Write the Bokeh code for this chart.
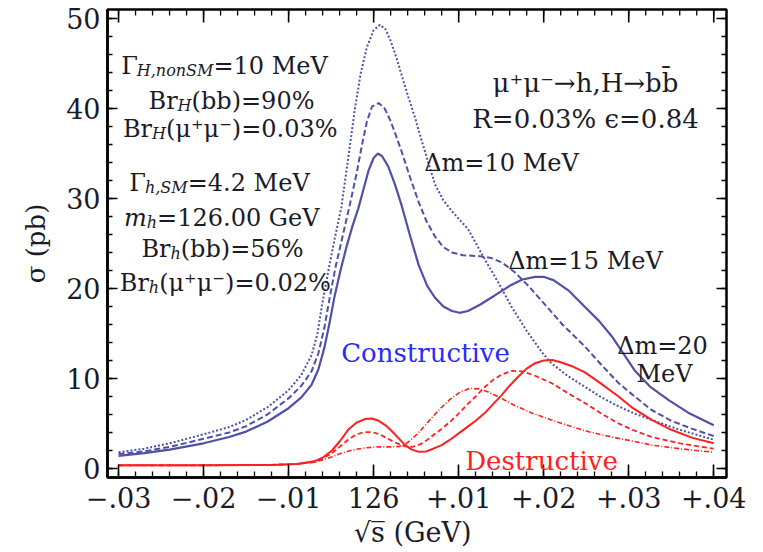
import math
from bokeh.plotting import figure
from bokeh.models import FixedTicker, Label, Range1d
from bokeh.embed import file_html
from bokeh.resources import INLINE

# ---------------- data (offset of sqrt(s) from 126 GeV, in GeV) ----------------
x_tick_values = [-0.03, -0.02, -0.01, 0.0, 0.01, 0.02, 0.03, 0.04]
x_tick_labels = ["\u2212.03", "\u2212.02", "\u2212.01", "126", "+.01", "+.02", "+.03", "+.04"]
y_tick_values = [0, 10, 20, 30, 40, 50]
y_tick_labels = ["0", "10", "20", "30", "40", "50"]

# Constructive, dm = 20 MeV (solid)
con20_x = [-0.030, -0.027, -0.024, -0.020, -0.017, -0.015, -0.0125, -0.010, -0.0085, -0.0073,
           -0.0065, -0.0058, -0.0052, -0.0046, -0.0039, -0.0032, -0.0025, -0.0018, -0.0012, -0.0006,
           0.0000, 0.0005, 0.0010, 0.0017, 0.0025, 0.0033, 0.0043, 0.0053, 0.0063, 0.0072,
           0.0082, 0.0092, 0.0101, 0.0111, 0.0125, 0.0142, 0.0160, 0.0175, 0.0190, 0.0200,
           0.0212, 0.0229, 0.0248, 0.0265, 0.0280, 0.0295, 0.0307, 0.0325, 0.0347, 0.0370,
           0.0400]
con20_y = [1.4, 1.7, 2.1, 2.8, 3.5, 4.1, 5.2, 6.7, 7.9, 9.3,
           11.0, 13.4, 16.1, 19.1, 22.0, 24.6, 26.9, 28.9, 31.0, 33.1,
           34.5, 35.0, 34.7, 33.6, 31.6, 29.2, 25.8, 22.6, 20.3, 19.0,
           18.0, 17.5, 17.3, 17.5, 18.2, 19.2, 20.3, 21.0, 21.3, 21.3,
           20.9, 19.8, 18.0, 16.4, 14.7, 12.6, 10.9, 9.1, 7.6, 6.2,
           4.8]
# Constructive, dm = 15 MeV (dashed)
con15_x = [-0.030, -0.027, -0.024, -0.020, -0.017, -0.015, -0.0125, -0.010, -0.0085, -0.0073,
           -0.0065, -0.0058, -0.0052, -0.0045, -0.0036, -0.0028, -0.0020, -0.0014, -0.0008, -0.0002,
           0.0006, 0.0013, 0.0020, 0.0027, 0.0033, 0.0043, 0.0053, 0.0062, 0.0072, 0.0082,
           0.0092, 0.0105, 0.0123, 0.0138, 0.0151, 0.0166, 0.0182, 0.0195, 0.0209, 0.0222,
           0.0233, 0.0248, 0.0268, 0.0288, 0.0307, 0.0327, 0.0350, 0.0375, 0.0400]
con15_y = [1.6, 1.9, 2.4, 3.3, 4.0, 4.7, 6.0, 7.8, 9.2, 10.8,
           12.8, 15.6, 18.8, 22.3, 26.0, 29.3, 32.8, 35.8, 38.5, 40.2,
           40.6, 40.0, 38.6, 36.8, 35.2, 32.3, 29.6, 27.5, 25.8, 24.6,
           24.0, 23.7, 23.6, 23.4, 22.9, 21.8, 20.3, 18.9, 17.4, 16.0,
           15.0, 13.6, 11.5, 9.5, 8.0, 6.5, 5.3, 4.4, 3.6]
# Constructive, dm = 10 MeV (dotted)
con10_x = [-0.030, -0.027, -0.024, -0.020, -0.017, -0.015, -0.0125, -0.010, -0.0085, -0.0073,
           -0.0066, -0.0061, -0.0052, -0.0045, -0.0038, -0.0030, -0.0022, -0.0015, -0.0008, 0.0000,
           0.00075, 0.0014, 0.0020, 0.0027, 0.0033, 0.0041, 0.0049, 0.0054, 0.0063, 0.0072,
           0.0082, 0.0092, 0.0111, 0.0131, 0.0147, 0.0162, 0.0180, 0.0198, 0.0209, 0.0228,
           0.0248, 0.0268, 0.0288, 0.0307, 0.0327, 0.0360, 0.0400]
con10_y = [1.8, 2.2, 2.8, 3.8, 4.6, 5.4, 6.8, 8.7, 10.4, 12.6,
           15.0, 18.0, 22.6, 25.9, 29.0, 34.4, 40.0, 44.0, 46.8, 48.7,
           49.3, 48.8, 47.5, 45.6, 43.7, 41.2, 38.9, 37.2, 34.4, 31.6,
           29.8, 28.6, 26.6, 23.2, 20.6, 18.0, 15.3, 12.9, 11.7, 10.3,
           9.1, 7.9, 6.9, 6.1, 5.4, 4.3, 3.2]

# Destructive, dm = 20 MeV (solid)
des20_x = [-0.030, -0.020, -0.012, -0.009, -0.007, -0.006, -0.0049, -0.0040, -0.0030, -0.0020,
           -0.0010, -0.0002, 0.0006, 0.0014, 0.0021, 0.0029, 0.0037, 0.0045, 0.0053, 0.0062,
           0.0070, 0.0080, 0.0090, 0.0100, 0.0110, 0.0120, 0.0130, 0.0140, 0.0150, 0.0160,
           0.0170, 0.0180, 0.0190, 0.0200, 0.0210, 0.0220, 0.0235, 0.0248, 0.0265, 0.0288,
           0.0305, 0.0327, 0.0350, 0.0375, 0.0400]
des20_y = [0.35, 0.35, 0.4, 0.5, 0.8, 1.2, 2.0, 3.0, 4.3, 5.1,
           5.5, 5.55, 5.3, 4.8, 4.2, 3.4, 2.6, 2.1, 1.85, 1.9,
           2.2, 2.6, 3.2, 3.9, 4.6, 5.3, 6.1, 7.1, 8.1, 9.2,
           10.2, 11.1, 11.7, 12.0, 12.05, 11.8, 11.3, 10.7, 9.6, 8.0,
           6.7, 5.4, 4.3, 3.4, 2.8]
# Destructive, dm = 15 MeV (dashed)
des15_x = [-0.030, -0.020, -0.012, -0.009, -0.007, -0.006, -0.0049, -0.0040, -0.0030, -0.0020,
           -0.0010, -0.0002, 0.0007, 0.0015, 0.0025, 0.0037, 0.0046, 0.0055, 0.0062, 0.0070,
           0.0080, 0.0090, 0.0100, 0.0110, 0.0120, 0.0130, 0.0140, 0.0150, 0.0162, 0.0175,
           0.0190, 0.0209, 0.0228, 0.0248, 0.0268, 0.0288, 0.0307, 0.0327, 0.0360, 0.0400]
des15_y = [0.35, 0.35, 0.4, 0.5, 0.7, 1.1, 1.7, 2.4, 3.2, 3.8,
           4.05, 4.05, 3.8, 3.4, 2.9, 2.45, 2.4, 2.7, 3.1, 3.7,
           4.4, 5.2, 6.1, 7.1, 8.0, 9.0, 9.8, 10.4, 10.85, 10.8,
           10.3, 9.5, 8.4, 7.3, 6.1, 5.0, 4.2, 3.5, 2.8, 2.2]
# Destructive, dm = 10 MeV (dash-dot)
des10_x = [-0.030, -0.020, -0.012, -0.009, -0.007, -0.006, -0.0049, -0.0038, -0.0025, -0.0010,
           0.0005, 0.0020, 0.0030, 0.0038, 0.0046, 0.0055, 0.0068, 0.0079, 0.0090, 0.0102,
           0.0113, 0.0124, 0.0135, 0.0150, 0.0166, 0.0185, 0.0209, 0.0228, 0.0248, 0.0268,
           0.0288, 0.0307, 0.0327, 0.0360, 0.0400]
des10_y = [0.35, 0.35, 0.4, 0.5, 0.7, 0.95, 1.3, 1.7, 2.05, 2.3,
           2.4, 2.4, 2.45, 2.75, 3.35, 4.2, 5.6, 6.7, 7.7, 8.5,
           8.9, 8.85, 8.5, 7.8, 7.0, 6.2, 5.4, 4.8, 4.2, 3.75,
           3.35, 3.0, 2.6, 2.2, 1.8]

# ---------------- figure ----------------
X0, X1 = -0.0313, 0.0415
Y0, Y1 = -1.0, 51.0
FL, FR, FT, FB = 107, 726, 9, 477  # frame pixel edges

p = figure(width=763, height=552, output_backend="svg", toolbar_location=None,
           x_range=Range1d(X0, X1), y_range=Range1d(Y0, Y1),
           min_border_left=FL, min_border_right=763 - FR,
           min_border_top=FT, min_border_bottom=552 - FB)
p.grid.visible = False
p.outline_line_color = "black"
p.outline_line_width = 2.5
p.background_fill_color = "white"
p.border_fill_color = "white"

x_minor = [round(-0.032 + 0.002 * i, 4) for i in range(37)]
y_minor = [2 * i for i in range(26)]

FONT = "DejaVu Serif"
TXT = "#1b1b28"

def style_axis(ax, ticks, minor, tin, mtin):
    ax.ticker = FixedTicker(ticks=ticks, minor_ticks=minor)
    ax.major_tick_in = tin
    ax.major_tick_out = 0
    ax.minor_tick_in = mtin
    ax.minor_tick_out = 0
    ax.axis_line_width = 2.5
    ax.major_tick_line_width = 1.6
    ax.minor_tick_line_width = 1.3
    ax.major_label_text_font = FONT
    ax.major_label_text_color = TXT
    ax.axis_label_text_font = FONT
    ax.axis_label_text_font_style = "normal"
    ax.axis_label_text_color = TXT

xa = p.xaxis[0]
style_axis(xa, x_tick_values, x_minor, 13, 6)
xa.major_label_overrides = {v: s for v, s in zip(x_tick_values, x_tick_labels)}
xa.major_label_text_font_size = "27px"
xa.major_label_standoff = 9
xa.axis_label = "\u221as\u0305  (GeV)"
xa.axis_label_text_font_size = "27px"
xa.axis_label_standoff = 6

ya = p.yaxis[0]
style_axis(ya, y_tick_values, y_minor, 10, 5)
ya.major_label_overrides = {v: s for v, s in zip(y_tick_values, y_tick_labels)}
ya.major_label_text_font_size = "27px"
ya.major_label_standoff = 7
ya.axis_label = "\u03c3 (pb)"
ya.axis_label_text_font_size = "26px"
ya.axis_label_standoff = 12

# mirrored ticks on top and right sides of the frame
p.ray(x=x_tick_values, y=[Y1] * len(x_tick_values), length=13, length_units="screen",
      angle=-math.pi / 2, line_color="black", line_width=1.6)
p.ray(x=x_minor, y=[Y1] * len(x_minor), length=6, length_units="screen",
      angle=-math.pi / 2, line_color="black", line_width=1.3)
p.ray(x=[X1] * len(y_tick_values), y=y_tick_values, length=10, length_units="screen",
      angle=math.pi, line_color="black", line_width=1.6)
p.ray(x=[X1] * len(y_minor), y=y_minor, length=5, length_units="screen",
      angle=math.pi, line_color="black", line_width=1.3)

# ---------------- curves ----------------
BLUE = "#5050a8"
RED = "#ff1f1f"
p.line(con20_x, con20_y, line_color=BLUE, line_width=2.2)
p.line(con15_x, con15_y, line_color=BLUE, line_width=2.0, line_dash="6 3")
p.line(con10_x, con10_y, line_color=BLUE, line_width=2.0, line_dash="2 2")
p.line(des20_x, des20_y, line_color=RED, line_width=2.0)
p.line(des15_x, des15_y, line_color=RED, line_width=1.8, line_dash="5 3")
p.line(des10_x, des10_y, line_color=RED, line_width=1.6, line_dash="5 2 1 2")

# ---------------- annotations (pixel layout -> data coords) ----------------
def dx(px):
    return X0 + (px - FL) / (FR - FL) * (X1 - X0)

def dy(py):
    return Y1 - (py - FT) / (FB - FT) * (Y1 - Y0)

def put(px, py, text, size, style="normal", color=TXT, align="left"):
    p.add_layout(Label(x=dx(px), y=dy(py), text=text, text_font=FONT,
                       text_font_size=f"{size}px", text_font_style=style,
                       text_color=color, text_align=align, text_baseline="alphabetic"))

# approximate DejaVu Serif advance widths (em) for chaining subscript pieces
EM = {' ': 0.318, '(': 0.390, ')': 0.390, '%': 0.950, ',': 0.318, '.': 0.318, '=': 0.838,
      'B': 0.732, 'G': 0.775, 'H': 0.872, 'M': 1.024, 'S': 0.686, 'V': 0.722, 'b': 0.640,
      'e': 0.592, 'h': 0.644, 'm': 0.948, 'n': 0.644, 'o': 0.602, 'r': 0.478,
      '\u0393': 0.653, '\u03bc': 0.660, '\u207a': 0.528, '\u207b': 0.528}

def text_width(t, size):
    return sum(EM.get(c, 0.636) for c in t) * size

M, S = 24, 16
left_block = [
    (224, 65, [("\u0393", "normal", M, 0), ("H,nonSM", "italic", S, 5), ("=10 MeV", "normal", M, 0)]),
    (231, 100, [("Br", "normal", M, 0), ("H", "italic", S, 5), ("(bb)=90%", "normal", M, 0)]),
    (230, 128, [("Br", "normal", M, 0), ("H", "italic", S, 5), ("(\u03bc\u207a\u03bc\u207b)=0.03%", "normal", M, 0)]),
    (219, 182, [("\u0393", "normal", M, 0), ("h,SM", "italic", S, 5), ("=4.2 MeV", "normal", M, 0)]),
    (221, 217, [("m", "italic", M, 0), ("h", "italic", S, 5), ("=126.00 GeV", "normal", M, 0)]),
    (222, 248, [("Br", "normal", M, 0), ("h", "italic", S, 5), ("(bb)=56%", "normal", M, 0)]),
    (225, 282, [("Br", "normal", M, 0), ("h", "italic", S, 5), ("(\u03bc\u207a\u03bc\u207b)=0.02%", "normal", M, 0)]),
]
for cx, base, segs in left_block:
    total = sum(text_width(t, sz) for t, _, sz, _ in segs)
    x = cx - total / 2
    for t, st, sz, shift in segs:
        put(x, base + shift, t, sz, st)
        x += text_width(t, sz)

put(585, 82, "\u03bc\u207a\u03bc\u207b\u2192h,H\u2192bb\u0304", 26, align="center")
put(585, 118, "R=0.03% \u03f5=0.84", 26, align="center")
put(501, 162, "\u0394m=10 MeV", 24, align="center")
put(585, 260, "\u0394m=15 MeV", 24, align="center")
put(662, 345, "\u0394m=20", 24, align="center")
put(664, 373, "MeV", 24, align="center")
put(425, 352, "Constructive", 26, color="#2a2aff", align="center")
put(541, 460, "Destructive", 26, color="#ff2020", align="center")

open("out.html", "w").write(file_html(p, INLINE))
